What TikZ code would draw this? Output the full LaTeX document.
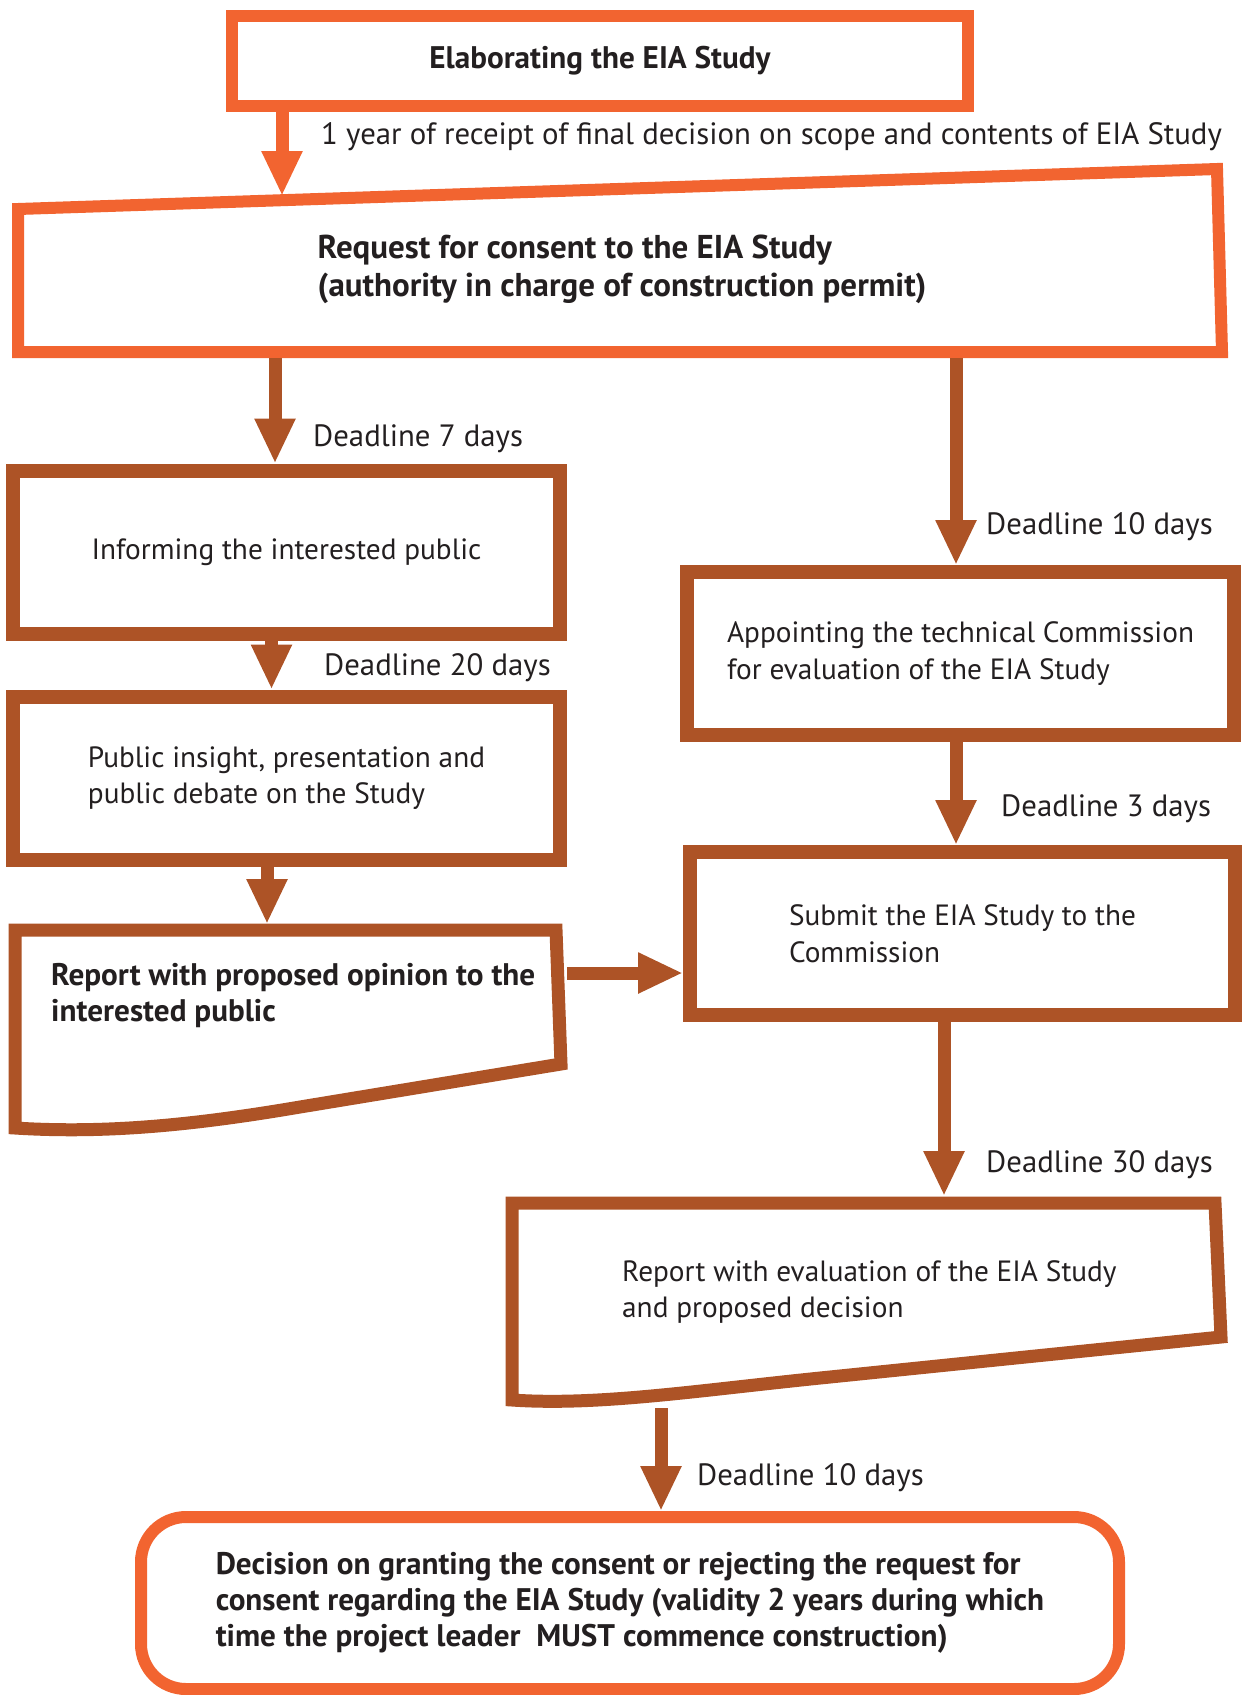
\documentclass[tikz,border=0pt]{standalone}
\usepackage{fontspec}
\setmainfont{PT Sans}
\usetikzlibrary{arrows.meta, positioning}
\definecolor{flame}{HTML}{F26430}
\definecolor{rust}{HTML}{AD5326}
\definecolor{ink}{HTML}{231F20}
\newcommand{\boxfont}{\fontsize{29.3}{36.5}\selectfont}
\newcommand{\boldfont}{\fontsize{31.2}{36}\selectfont\bfseries}
\newcommand{\labelfont}{\fontsize{30.8}{36}\selectfont}
\tikzset{
  stepbox/.style={
    rectangle, draw=rust, line width=14pt, fill=white,
    minimum width=547pt, minimum height=163pt, inner sep=0pt,
    align=left, text=ink, font=\boxfont
  },
  keybox/.style={stepbox, draw=flame, line width=12pt, font=\boldfont},
  boxtext/.style={text=ink, align=left, inner sep=0pt, font=\boxfont},
  deadline/.style={text=ink, anchor=west, inner sep=0pt, font=\labelfont},
  docline/.style={draw=rust, line width=13pt, fill=white, line join=miter},
  flow/.style={-{Triangle[length=45pt,width=38pt]}, line width=13pt, draw=rust},
  keyflow/.style={flow, draw=flame},
}

\begin{document}
\begin{tikzpicture}[x=1pt, y=-1pt]
  \useasboundingbox (0,0) rectangle (1242,1695);

  % top: elaboration and request
  \node[keybox, minimum width=736pt, minimum height=90pt] (elab) at (600,61)
    {Elaborating the EIA Study};
  \draw[docline, draw=flame, line width=12pt] (18,209) -- (1217,169) -- (1222,352) -- (18,352) -- cycle;
  \node[boxtext, font=\fontsize{33}{38}\selectfont\bfseries] (req) at (622,269)
    {Request for consent to the EIA Study\\ (authority in charge of construction permit)};
  \coordinate (reqtop) at (282,196);
  \coordinate (reqL) at (275,358);
  \coordinate (reqR) at (956,358);
  \draw[keyflow] (elab.south -| reqtop) -- (reqtop);
  \node[deadline] (lblyear) at (321,137)
    {1 year of receipt of final decision on scope and contents of EIA Study};

  % left branch
  \node[stepbox] (inform) at (286.5,552) {Informing the interested public};
  \node[stepbox, below=49pt of inform] (public)
    {Public insight, presentation and\\public debate on the Study};
  \draw[docline] (15,930) -- (556,930) -- (561,1064) -- (300,1107)
    .. controls (200,1124) and (110,1134) .. (15,1128) -- cycle;
  \node[boxtext, font=\boldfont, anchor=west] (opinion) at (51,996)
    {Report with proposed opinion to the\\interested public};
  \coordinate (optop) at (267,924);
  \coordinate (opright) at (567,973);

  \draw[flow] (reqL) -- (reqL |- inform.north);
  \draw[flow] ([xshift=-15pt]inform.south) -- ([xshift=-15pt]public.north);
  \draw[flow] (public.south -| optop) -- (optop);
  \node[deadline] (lbl7) at (313,439) {Deadline 7 days};
  \node[deadline] (lbl20) at (324,668) {Deadline 20 days};

  % right branch
  \node[stepbox] (appoint) at (960.5,653.5)
    {Appointing the technical Commission\\for evaluation of the EIA Study};
  \node[stepbox, minimum width=545pt] (submit) at (962.5,933.5)
    {Submit the EIA Study to the\\Commission};
  \draw[docline] (512,1203) -- (1215,1203) -- (1221,1337) -- (830,1377)
    .. controls (700,1390) and (600,1406) .. (512,1400) -- cycle;
  \node[boxtext, anchor=west] (evalrep) at (622,1292)
    {Report with evaluation of the EIA Study\\and proposed decision};
  \coordinate (evtop) at (944,1196);
  \coordinate (evbot) at (661,1408);

  \draw[flow] (reqR) -- (reqR |- appoint.north);
  \draw[flow] (appoint.south -| reqR) -- (submit.north -| reqR);
  \draw[flow] (opright) -- (opright -| submit.west);
  \draw[flow] (submit.south -| evtop) -- (evtop);
  \node[deadline] (lbl10a) at (986,527) {Deadline 10 days};
  \node[deadline] (lbl3) at (1001,809) {Deadline 3 days};
  \node[deadline] (lbl30) at (986,1165) {Deadline 30 days};

  % decision
  \node[keybox, rounded corners=45pt, minimum width=978pt, minimum height=172pt] (decision) at (630,1603)
    {Decision on granting the consent or rejecting the request for\\
     consent regarding the EIA Study (validity 2 years during which\\
     time the project leader\ \ MUST commence construction)};
  \draw[flow] (evbot) -- (evbot |- decision.north);
  \node[deadline] (lbl10b) at (697,1478) {Deadline 10 days};
\end{tikzpicture}
\end{document}
